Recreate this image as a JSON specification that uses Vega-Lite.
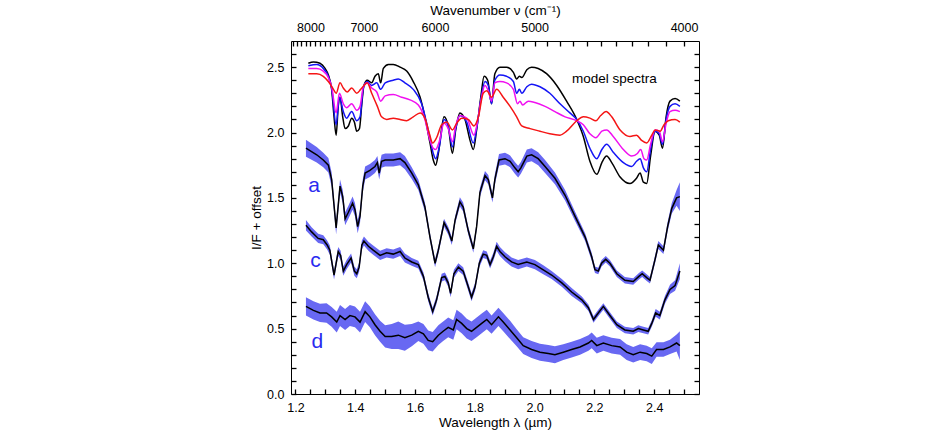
{
  "$schema": "https://vega.github.io/schema/vega-lite/v6.json",
  "width": 408,
  "height": 353,
  "autosize": {"type": "none"},
  "padding": {"left": 291, "top": 41, "right": 242, "bottom": 37},
  "background": "white",
  "config": {
    "view": {"stroke": "black", "strokeWidth": 1},
    "axis": {
      "domain": false, "grid": false, "zindex": 1,
      "labelFont": "Liberation Sans", "labelFontSize": 12.5, "labelColor": "black",
      "labelOverlap": false, "labelFlush": false,
      "tickColor": "black", "tickWidth": 1.3, "tickOpacity": 1,
      "titleFont": "Liberation Sans", "titleFontSize": 13.5, "titleFontWeight": "normal", "titleColor": "black"
    }
  },
  "data": {"values": [
    {"g":"a","x":1.235,"y":1.88,"lo":1.815,"hi":1.945},{"g":"a","x":1.271,"y":1.83,"lo":1.77,"hi":1.89},{"g":"a","x":1.293,"y":1.79,"lo":1.735,"hi":1.845},{"g":"a","x":1.310,"y":1.75,"lo":1.695,"hi":1.805},{"g":"a","x":1.321,"y":1.64,"lo":1.585,"hi":1.695},{"g":"a","x":1.336,"y":1.27,"lo":1.22,"hi":1.32},{"g":"a","x":1.349,"y":1.59,"lo":1.54,"hi":1.64},{"g":"a","x":1.358,"y":1.51,"lo":1.46,"hi":1.56},{"g":"a","x":1.366,"y":1.34,"lo":1.29,"hi":1.39},{"g":"a","x":1.377,"y":1.39,"lo":1.34,"hi":1.44},{"g":"a","x":1.391,"y":1.46,"lo":1.41,"hi":1.51},{"g":"a","x":1.399,"y":1.41,"lo":1.36,"hi":1.46},{"g":"a","x":1.408,"y":1.28,"lo":1.23,"hi":1.33},{"g":"a","x":1.416,"y":1.36,"lo":1.31,"hi":1.41},{"g":"a","x":1.425,"y":1.59,"lo":1.54,"hi":1.64},{"g":"a","x":1.433,"y":1.69,"lo":1.64,"hi":1.74},{"g":"a","x":1.449,"y":1.71,"lo":1.66,"hi":1.76},{"g":"a","x":1.466,"y":1.74,"lo":1.69,"hi":1.79},{"g":"a","x":1.474,"y":1.77,"lo":1.72,"hi":1.82},{"g":"a","x":1.480,"y":1.69,"lo":1.64,"hi":1.74},{"g":"a","x":1.488,"y":1.78,"lo":1.73,"hi":1.83},{"g":"a","x":1.500,"y":1.79,"lo":1.74,"hi":1.84},{"g":"a","x":1.527,"y":1.79,"lo":1.74,"hi":1.84},{"g":"a","x":1.550,"y":1.80,"lo":1.75,"hi":1.85},{"g":"a","x":1.566,"y":1.77,"lo":1.72,"hi":1.82},{"g":"a","x":1.589,"y":1.69,"lo":1.645,"hi":1.735},{"g":"a","x":1.611,"y":1.60,"lo":1.56,"hi":1.64},{"g":"a","x":1.633,"y":1.43,"lo":1.395,"hi":1.465},{"g":"a","x":1.650,"y":1.20,"lo":1.17,"hi":1.23},{"g":"a","x":1.667,"y":1.00,"lo":0.97,"hi":1.03},{"g":"a","x":1.678,"y":1.10,"lo":1.07,"hi":1.13},{"g":"a","x":1.697,"y":1.31,"lo":1.28,"hi":1.34},{"g":"a","x":1.711,"y":1.25,"lo":1.22,"hi":1.28},{"g":"a","x":1.723,"y":1.17,"lo":1.14,"hi":1.20},{"g":"a","x":1.734,"y":1.33,"lo":1.30,"hi":1.36},{"g":"a","x":1.750,"y":1.47,"lo":1.435,"hi":1.505},{"g":"a","x":1.761,"y":1.43,"lo":1.395,"hi":1.465},{"g":"a","x":1.778,"y":1.25,"lo":1.22,"hi":1.28},{"g":"a","x":1.795,"y":1.11,"lo":1.08,"hi":1.14},{"g":"a","x":1.806,"y":1.28,"lo":1.25,"hi":1.31},{"g":"a","x":1.817,"y":1.54,"lo":1.505,"hi":1.575},{"g":"a","x":1.834,"y":1.67,"lo":1.635,"hi":1.705},{"g":"a","x":1.845,"y":1.64,"lo":1.605,"hi":1.675},{"g":"a","x":1.859,"y":1.50,"lo":1.465,"hi":1.535},{"g":"a","x":1.867,"y":1.64,"lo":1.60,"hi":1.68},{"g":"a","x":1.881,"y":1.79,"lo":1.745,"hi":1.835},{"g":"a","x":1.901,"y":1.80,"lo":1.755,"hi":1.845},{"g":"a","x":1.918,"y":1.78,"lo":1.735,"hi":1.825},{"g":"a","x":1.934,"y":1.73,"lo":1.685,"hi":1.775},{"g":"a","x":1.945,"y":1.70,"lo":1.655,"hi":1.745},{"g":"a","x":1.954,"y":1.73,"lo":1.685,"hi":1.775},{"g":"a","x":1.974,"y":1.82,"lo":1.77,"hi":1.87},{"g":"a","x":1.990,"y":1.83,"lo":1.78,"hi":1.88},{"g":"a","x":2.012,"y":1.80,"lo":1.75,"hi":1.85},{"g":"a","x":2.035,"y":1.74,"lo":1.69,"hi":1.79},{"g":"a","x":2.068,"y":1.65,"lo":1.605,"hi":1.695},{"g":"a","x":2.102,"y":1.52,"lo":1.48,"hi":1.56},{"g":"a","x":2.135,"y":1.36,"lo":1.325,"hi":1.395},{"g":"a","x":2.169,"y":1.20,"lo":1.17,"hi":1.23},{"g":"a","x":2.191,"y":1.05,"lo":1.02,"hi":1.08},{"g":"a","x":2.202,"y":0.95,"lo":0.925,"hi":0.975},{"g":"a","x":2.213,"y":0.94,"lo":0.915,"hi":0.965},{"g":"a","x":2.224,"y":1.00,"lo":0.975,"hi":1.025},{"g":"a","x":2.238,"y":1.03,"lo":1.005,"hi":1.055},{"g":"a","x":2.252,"y":1.00,"lo":0.975,"hi":1.025},{"g":"a","x":2.275,"y":0.92,"lo":0.895,"hi":0.945},{"g":"a","x":2.302,"y":0.87,"lo":0.845,"hi":0.895},{"g":"a","x":2.330,"y":0.86,"lo":0.835,"hi":0.885},{"g":"a","x":2.349,"y":0.90,"lo":0.875,"hi":0.925},{"g":"a","x":2.360,"y":0.92,"lo":0.895,"hi":0.945},{"g":"a","x":2.375,"y":0.89,"lo":0.865,"hi":0.915},{"g":"a","x":2.386,"y":0.87,"lo":0.845,"hi":0.895},{"g":"a","x":2.403,"y":1.03,"lo":1.00,"hi":1.06},{"g":"a","x":2.414,"y":1.14,"lo":1.11,"hi":1.17},{"g":"a","x":2.431,"y":1.10,"lo":1.07,"hi":1.13},{"g":"a","x":2.445,"y":1.28,"lo":1.245,"hi":1.315},{"g":"a","x":2.459,"y":1.42,"lo":1.38,"hi":1.46},{"g":"a","x":2.475,"y":1.50,"lo":1.44,"hi":1.56},{"g":"a","x":2.486,"y":1.51,"lo":1.40,"hi":1.62},
    {"g":"c","x":1.235,"y":1.29,"lo":1.25,"hi":1.33},{"g":"c","x":1.254,"y":1.24,"lo":1.205,"hi":1.275},{"g":"c","x":1.276,"y":1.19,"lo":1.155,"hi":1.225},{"g":"c","x":1.293,"y":1.18,"lo":1.145,"hi":1.215},{"g":"c","x":1.306,"y":1.14,"lo":1.105,"hi":1.175},{"g":"c","x":1.315,"y":1.10,"lo":1.065,"hi":1.135},{"g":"c","x":1.329,"y":0.91,"lo":0.875,"hi":0.945},{"g":"c","x":1.343,"y":1.09,"lo":1.055,"hi":1.125},{"g":"c","x":1.351,"y":1.06,"lo":1.025,"hi":1.095},{"g":"c","x":1.360,"y":0.94,"lo":0.905,"hi":0.975},{"g":"c","x":1.371,"y":0.99,"lo":0.955,"hi":1.025},{"g":"c","x":1.386,"y":1.04,"lo":1.005,"hi":1.075},{"g":"c","x":1.397,"y":0.94,"lo":0.905,"hi":0.975},{"g":"c","x":1.405,"y":0.92,"lo":0.885,"hi":0.955},{"g":"c","x":1.413,"y":0.97,"lo":0.935,"hi":1.005},{"g":"c","x":1.422,"y":1.14,"lo":1.105,"hi":1.175},{"g":"c","x":1.429,"y":1.17,"lo":1.135,"hi":1.205},{"g":"c","x":1.444,"y":1.13,"lo":1.095,"hi":1.165},{"g":"c","x":1.460,"y":1.10,"lo":1.065,"hi":1.135},{"g":"c","x":1.483,"y":1.06,"lo":1.025,"hi":1.095},{"g":"c","x":1.505,"y":1.08,"lo":1.045,"hi":1.115},{"g":"c","x":1.527,"y":1.07,"lo":1.035,"hi":1.105},{"g":"c","x":1.550,"y":1.09,"lo":1.055,"hi":1.125},{"g":"c","x":1.566,"y":1.04,"lo":1.005,"hi":1.075},{"g":"c","x":1.589,"y":1.01,"lo":0.98,"hi":1.04},{"g":"c","x":1.611,"y":0.99,"lo":0.96,"hi":1.02},{"g":"c","x":1.628,"y":0.90,"lo":0.87,"hi":0.93},{"g":"c","x":1.644,"y":0.74,"lo":0.71,"hi":0.77},{"g":"c","x":1.659,"y":0.63,"lo":0.60,"hi":0.66},{"g":"c","x":1.672,"y":0.72,"lo":0.69,"hi":0.75},{"g":"c","x":1.689,"y":0.89,"lo":0.86,"hi":0.92},{"g":"c","x":1.700,"y":0.90,"lo":0.87,"hi":0.93},{"g":"c","x":1.711,"y":0.85,"lo":0.82,"hi":0.88},{"g":"c","x":1.719,"y":0.77,"lo":0.74,"hi":0.80},{"g":"c","x":1.730,"y":0.92,"lo":0.89,"hi":0.95},{"g":"c","x":1.745,"y":0.97,"lo":0.94,"hi":1.00},{"g":"c","x":1.761,"y":0.94,"lo":0.91,"hi":0.97},{"g":"c","x":1.778,"y":0.82,"lo":0.79,"hi":0.85},{"g":"c","x":1.789,"y":0.74,"lo":0.71,"hi":0.77},{"g":"c","x":1.801,"y":0.82,"lo":0.79,"hi":0.85},{"g":"c","x":1.815,"y":1.00,"lo":0.97,"hi":1.03},{"g":"c","x":1.828,"y":1.07,"lo":1.04,"hi":1.10},{"g":"c","x":1.840,"y":1.06,"lo":1.03,"hi":1.09},{"g":"c","x":1.851,"y":0.99,"lo":0.96,"hi":1.02},{"g":"c","x":1.862,"y":1.05,"lo":1.02,"hi":1.08},{"g":"c","x":1.873,"y":1.13,"lo":1.095,"hi":1.165},{"g":"c","x":1.884,"y":1.09,"lo":1.055,"hi":1.125},{"g":"c","x":1.901,"y":1.05,"lo":1.015,"hi":1.085},{"g":"c","x":1.923,"y":1.01,"lo":0.975,"hi":1.045},{"g":"c","x":1.945,"y":0.99,"lo":0.955,"hi":1.025},{"g":"c","x":1.974,"y":1.01,"lo":0.975,"hi":1.045},{"g":"c","x":2.001,"y":0.99,"lo":0.955,"hi":1.025},{"g":"c","x":2.029,"y":0.95,"lo":0.915,"hi":0.985},{"g":"c","x":2.057,"y":0.91,"lo":0.88,"hi":0.94},{"g":"c","x":2.091,"y":0.85,"lo":0.82,"hi":0.88},{"g":"c","x":2.124,"y":0.78,"lo":0.75,"hi":0.81},{"g":"c","x":2.158,"y":0.72,"lo":0.695,"hi":0.745},{"g":"c","x":2.180,"y":0.66,"lo":0.635,"hi":0.685},{"g":"c","x":2.197,"y":0.57,"lo":0.545,"hi":0.595},{"g":"c","x":2.213,"y":0.62,"lo":0.595,"hi":0.645},{"g":"c","x":2.230,"y":0.67,"lo":0.645,"hi":0.695},{"g":"c","x":2.252,"y":0.60,"lo":0.575,"hi":0.625},{"g":"c","x":2.275,"y":0.53,"lo":0.505,"hi":0.555},{"g":"c","x":2.302,"y":0.49,"lo":0.465,"hi":0.515},{"g":"c","x":2.330,"y":0.48,"lo":0.455,"hi":0.505},{"g":"c","x":2.347,"y":0.50,"lo":0.475,"hi":0.525},{"g":"c","x":2.364,"y":0.49,"lo":0.465,"hi":0.515},{"g":"c","x":2.380,"y":0.48,"lo":0.455,"hi":0.505},{"g":"c","x":2.392,"y":0.54,"lo":0.515,"hi":0.565},{"g":"c","x":2.405,"y":0.62,"lo":0.59,"hi":0.65},{"g":"c","x":2.419,"y":0.60,"lo":0.57,"hi":0.63},{"g":"c","x":2.436,"y":0.72,"lo":0.69,"hi":0.75},{"g":"c","x":2.453,"y":0.80,"lo":0.765,"hi":0.835},{"g":"c","x":2.470,"y":0.83,"lo":0.79,"hi":0.87},{"g":"c","x":2.486,"y":0.94,"lo":0.88,"hi":1.00},
    {"g":"d","x":1.235,"y":0.67,"lo":0.60,"hi":0.74},{"g":"d","x":1.260,"y":0.64,"lo":0.57,"hi":0.71},{"g":"d","x":1.282,"y":0.62,"lo":0.55,"hi":0.69},{"g":"d","x":1.304,"y":0.62,"lo":0.545,"hi":0.695},{"g":"d","x":1.321,"y":0.59,"lo":0.515,"hi":0.665},{"g":"d","x":1.338,"y":0.55,"lo":0.47,"hi":0.63},{"g":"d","x":1.349,"y":0.60,"lo":0.52,"hi":0.68},{"g":"d","x":1.366,"y":0.57,"lo":0.49,"hi":0.65},{"g":"d","x":1.382,"y":0.60,"lo":0.52,"hi":0.68},{"g":"d","x":1.399,"y":0.59,"lo":0.51,"hi":0.67},{"g":"d","x":1.416,"y":0.55,"lo":0.47,"hi":0.63},{"g":"d","x":1.433,"y":0.63,"lo":0.55,"hi":0.71},{"g":"d","x":1.449,"y":0.59,"lo":0.51,"hi":0.67},{"g":"d","x":1.466,"y":0.53,"lo":0.45,"hi":0.61},{"g":"d","x":1.483,"y":0.48,"lo":0.40,"hi":0.56},{"g":"d","x":1.500,"y":0.44,"lo":0.355,"hi":0.525},{"g":"d","x":1.522,"y":0.44,"lo":0.345,"hi":0.535},{"g":"d","x":1.544,"y":0.45,"lo":0.345,"hi":0.555},{"g":"d","x":1.566,"y":0.43,"lo":0.33,"hi":0.53},{"g":"d","x":1.589,"y":0.45,"lo":0.365,"hi":0.535},{"g":"d","x":1.611,"y":0.48,"lo":0.405,"hi":0.555},{"g":"d","x":1.628,"y":0.46,"lo":0.385,"hi":0.535},{"g":"d","x":1.644,"y":0.41,"lo":0.335,"hi":0.485},{"g":"d","x":1.659,"y":0.40,"lo":0.325,"hi":0.475},{"g":"d","x":1.678,"y":0.45,"lo":0.375,"hi":0.525},{"g":"d","x":1.694,"y":0.48,"lo":0.405,"hi":0.555},{"g":"d","x":1.711,"y":0.51,"lo":0.435,"hi":0.585},{"g":"d","x":1.728,"y":0.49,"lo":0.415,"hi":0.565},{"g":"d","x":1.739,"y":0.57,"lo":0.495,"hi":0.645},{"g":"d","x":1.756,"y":0.54,"lo":0.465,"hi":0.615},{"g":"d","x":1.773,"y":0.50,"lo":0.425,"hi":0.575},{"g":"d","x":1.789,"y":0.48,"lo":0.405,"hi":0.555},{"g":"d","x":1.806,"y":0.51,"lo":0.435,"hi":0.585},{"g":"d","x":1.823,"y":0.54,"lo":0.465,"hi":0.615},{"g":"d","x":1.840,"y":0.57,"lo":0.495,"hi":0.645},{"g":"d","x":1.856,"y":0.53,"lo":0.46,"hi":0.60},{"g":"d","x":1.879,"y":0.59,"lo":0.52,"hi":0.66},{"g":"d","x":1.895,"y":0.55,"lo":0.48,"hi":0.62},{"g":"d","x":1.918,"y":0.49,"lo":0.42,"hi":0.56},{"g":"d","x":1.940,"y":0.43,"lo":0.365,"hi":0.495},{"g":"d","x":1.962,"y":0.37,"lo":0.305,"hi":0.435},{"g":"d","x":1.990,"y":0.34,"lo":0.275,"hi":0.405},{"g":"d","x":2.018,"y":0.32,"lo":0.255,"hi":0.385},{"g":"d","x":2.046,"y":0.31,"lo":0.245,"hi":0.375},{"g":"d","x":2.068,"y":0.30,"lo":0.235,"hi":0.365},{"g":"d","x":2.096,"y":0.32,"lo":0.26,"hi":0.38},{"g":"d","x":2.124,"y":0.34,"lo":0.28,"hi":0.40},{"g":"d","x":2.152,"y":0.36,"lo":0.30,"hi":0.42},{"g":"d","x":2.180,"y":0.39,"lo":0.33,"hi":0.45},{"g":"d","x":2.191,"y":0.41,"lo":0.35,"hi":0.47},{"g":"d","x":2.208,"y":0.37,"lo":0.31,"hi":0.43},{"g":"d","x":2.230,"y":0.39,"lo":0.33,"hi":0.45},{"g":"d","x":2.258,"y":0.37,"lo":0.31,"hi":0.43},{"g":"d","x":2.286,"y":0.36,"lo":0.30,"hi":0.42},{"g":"d","x":2.308,"y":0.32,"lo":0.26,"hi":0.38},{"g":"d","x":2.330,"y":0.30,"lo":0.24,"hi":0.36},{"g":"d","x":2.353,"y":0.32,"lo":0.26,"hi":0.38},{"g":"d","x":2.375,"y":0.31,"lo":0.25,"hi":0.37},{"g":"d","x":2.392,"y":0.29,"lo":0.23,"hi":0.35},{"g":"d","x":2.408,"y":0.34,"lo":0.285,"hi":0.395},{"g":"d","x":2.431,"y":0.34,"lo":0.285,"hi":0.395},{"g":"d","x":2.453,"y":0.36,"lo":0.305,"hi":0.415},{"g":"d","x":2.475,"y":0.39,"lo":0.325,"hi":0.455},{"g":"d","x":2.486,"y":0.37,"lo":0.26,"hi":0.48},
    {"g":"k","x":1.243,"y":2.53},{"g":"k","x":1.260,"y":2.54},{"g":"k","x":1.282,"y":2.53},{"g":"k","x":1.299,"y":2.49},{"g":"k","x":1.310,"y":2.44},{"g":"k","x":1.321,"y":2.33},{"g":"k","x":1.329,"y":2.12},{"g":"k","x":1.336,"y":1.98},{"g":"k","x":1.343,"y":2.20},{"g":"k","x":1.349,"y":2.27},{"g":"k","x":1.358,"y":2.12},{"g":"k","x":1.366,"y":2.03},{"g":"k","x":1.377,"y":2.05},{"g":"k","x":1.388,"y":2.11},{"g":"k","x":1.397,"y":2.08},{"g":"k","x":1.405,"y":2.01},{"g":"k","x":1.414,"y":2.03},{"g":"k","x":1.422,"y":2.22},{"g":"k","x":1.429,"y":2.36},{"g":"k","x":1.440,"y":2.40},{"g":"k","x":1.455,"y":2.38},{"g":"k","x":1.466,"y":2.43},{"g":"k","x":1.477,"y":2.45},{"g":"k","x":1.485,"y":2.38},{"g":"k","x":1.494,"y":2.49},{"g":"k","x":1.511,"y":2.52},{"g":"k","x":1.527,"y":2.52},{"g":"k","x":1.550,"y":2.50},{"g":"k","x":1.572,"y":2.47},{"g":"k","x":1.594,"y":2.39},{"g":"k","x":1.617,"y":2.27},{"g":"k","x":1.633,"y":2.12},{"g":"k","x":1.650,"y":1.92},{"g":"k","x":1.661,"y":1.79},{"g":"k","x":1.669,"y":1.75},{"g":"k","x":1.678,"y":1.84},{"g":"k","x":1.697,"y":2.12},{"g":"k","x":1.711,"y":2.05},{"g":"k","x":1.725,"y":1.84},{"g":"k","x":1.736,"y":2.02},{"g":"k","x":1.750,"y":2.15},{"g":"k","x":1.767,"y":2.10},{"g":"k","x":1.784,"y":1.94},{"g":"k","x":1.795,"y":1.87},{"g":"k","x":1.806,"y":2.02},{"g":"k","x":1.820,"y":2.27},{"g":"k","x":1.831,"y":2.43},{"g":"k","x":1.843,"y":2.40},{"g":"k","x":1.856,"y":2.22},{"g":"k","x":1.867,"y":2.45},{"g":"k","x":1.884,"y":2.50},{"g":"k","x":1.906,"y":2.50},{"g":"k","x":1.929,"y":2.46},{"g":"k","x":1.940,"y":2.41},{"g":"k","x":1.949,"y":2.43},{"g":"k","x":1.957,"y":2.42},{"g":"k","x":1.974,"y":2.48},{"g":"k","x":1.990,"y":2.50},{"g":"k","x":2.012,"y":2.49},{"g":"k","x":2.040,"y":2.45},{"g":"k","x":2.074,"y":2.36},{"g":"k","x":2.107,"y":2.24},{"g":"k","x":2.141,"y":2.10},{"g":"k","x":2.163,"y":1.97},{"g":"k","x":2.185,"y":1.78},{"g":"k","x":2.208,"y":1.68},{"g":"k","x":2.225,"y":1.77},{"g":"k","x":2.241,"y":1.82},{"g":"k","x":2.258,"y":1.77},{"g":"k","x":2.286,"y":1.66},{"g":"k","x":2.319,"y":1.61},{"g":"k","x":2.341,"y":1.65},{"g":"k","x":2.353,"y":1.69},{"g":"k","x":2.364,"y":1.62},{"g":"k","x":2.375,"y":1.61},{"g":"k","x":2.388,"y":1.82},{"g":"k","x":2.403,"y":2.01},{"g":"k","x":2.417,"y":1.98},{"g":"k","x":2.428,"y":1.88},{"g":"k","x":2.440,"y":2.12},{"g":"k","x":2.453,"y":2.24},{"g":"k","x":2.470,"y":2.26},{"g":"k","x":2.486,"y":2.24},
    {"g":"b","x":1.243,"y":2.51},{"g":"b","x":1.271,"y":2.52},{"g":"b","x":1.293,"y":2.49},{"g":"b","x":1.310,"y":2.43},{"g":"b","x":1.321,"y":2.34},{"g":"b","x":1.336,"y":2.06},{"g":"b","x":1.347,"y":2.27},{"g":"b","x":1.360,"y":2.16},{"g":"b","x":1.371,"y":2.11},{"g":"b","x":1.388,"y":2.16},{"g":"b","x":1.405,"y":2.09},{"g":"b","x":1.416,"y":2.12},{"g":"b","x":1.427,"y":2.34},{"g":"b","x":1.440,"y":2.39},{"g":"b","x":1.455,"y":2.36},{"g":"b","x":1.472,"y":2.38},{"g":"b","x":1.485,"y":2.33},{"g":"b","x":1.500,"y":2.38},{"g":"b","x":1.527,"y":2.40},{"g":"b","x":1.544,"y":2.41},{"g":"b","x":1.566,"y":2.38},{"g":"b","x":1.594,"y":2.33},{"g":"b","x":1.622,"y":2.22},{"g":"b","x":1.644,"y":2.02},{"g":"b","x":1.661,"y":1.84},{"g":"b","x":1.669,"y":1.80},{"g":"b","x":1.681,"y":1.89},{"g":"b","x":1.697,"y":2.10},{"g":"b","x":1.711,"y":2.05},{"g":"b","x":1.725,"y":1.89},{"g":"b","x":1.736,"y":2.03},{"g":"b","x":1.750,"y":2.13},{"g":"b","x":1.773,"y":2.08},{"g":"b","x":1.795,"y":1.92},{"g":"b","x":1.806,"y":2.03},{"g":"b","x":1.820,"y":2.25},{"g":"b","x":1.834,"y":2.39},{"g":"b","x":1.845,"y":2.36},{"g":"b","x":1.856,"y":2.22},{"g":"b","x":1.867,"y":2.40},{"g":"b","x":1.884,"y":2.44},{"g":"b","x":1.906,"y":2.43},{"g":"b","x":1.929,"y":2.39},{"g":"b","x":1.940,"y":2.30},{"g":"b","x":1.949,"y":2.33},{"g":"b","x":1.957,"y":2.30},{"g":"b","x":1.974,"y":2.35},{"g":"b","x":1.990,"y":2.37},{"g":"b","x":2.018,"y":2.35},{"g":"b","x":2.051,"y":2.30},{"g":"b","x":2.085,"y":2.22},{"g":"b","x":2.118,"y":2.15},{"g":"b","x":2.141,"y":2.10},{"g":"b","x":2.163,"y":2.01},{"g":"b","x":2.185,"y":1.88},{"g":"b","x":2.208,"y":1.80},{"g":"b","x":2.225,"y":1.87},{"g":"b","x":2.241,"y":1.91},{"g":"b","x":2.263,"y":1.85},{"g":"b","x":2.297,"y":1.77},{"g":"b","x":2.325,"y":1.74},{"g":"b","x":2.341,"y":1.78},{"g":"b","x":2.353,"y":1.80},{"g":"b","x":2.364,"y":1.73},{"g":"b","x":2.375,"y":1.70},{"g":"b","x":2.388,"y":1.87},{"g":"b","x":2.403,"y":2.01},{"g":"b","x":2.417,"y":1.99},{"g":"b","x":2.428,"y":1.91},{"g":"b","x":2.440,"y":2.10},{"g":"b","x":2.453,"y":2.20},{"g":"b","x":2.470,"y":2.22},{"g":"b","x":2.486,"y":2.20},
    {"g":"p","x":1.243,"y":2.49},{"g":"p","x":1.271,"y":2.49},{"g":"p","x":1.293,"y":2.47},{"g":"p","x":1.310,"y":2.42},{"g":"p","x":1.321,"y":2.35},{"g":"p","x":1.336,"y":2.15},{"g":"p","x":1.347,"y":2.30},{"g":"p","x":1.360,"y":2.22},{"g":"p","x":1.371,"y":2.19},{"g":"p","x":1.388,"y":2.22},{"g":"p","x":1.405,"y":2.17},{"g":"p","x":1.416,"y":2.20},{"g":"p","x":1.427,"y":2.35},{"g":"p","x":1.440,"y":2.38},{"g":"p","x":1.455,"y":2.34},{"g":"p","x":1.472,"y":2.31},{"g":"p","x":1.485,"y":2.24},{"g":"p","x":1.500,"y":2.28},{"g":"p","x":1.527,"y":2.29},{"g":"p","x":1.555,"y":2.27},{"g":"p","x":1.583,"y":2.25},{"g":"p","x":1.611,"y":2.21},{"g":"p","x":1.633,"y":2.10},{"g":"p","x":1.650,"y":1.94},{"g":"p","x":1.661,"y":1.88},{"g":"p","x":1.669,"y":1.87},{"g":"p","x":1.681,"y":1.93},{"g":"p","x":1.697,"y":2.07},{"g":"p","x":1.711,"y":2.03},{"g":"p","x":1.725,"y":1.93},{"g":"p","x":1.736,"y":2.05},{"g":"p","x":1.750,"y":2.13},{"g":"p","x":1.773,"y":2.11},{"g":"p","x":1.797,"y":1.98},{"g":"p","x":1.808,"y":2.07},{"g":"p","x":1.820,"y":2.24},{"g":"p","x":1.834,"y":2.36},{"g":"p","x":1.845,"y":2.32},{"g":"p","x":1.856,"y":2.24},{"g":"p","x":1.867,"y":2.38},{"g":"p","x":1.884,"y":2.39},{"g":"p","x":1.906,"y":2.38},{"g":"p","x":1.929,"y":2.33},{"g":"p","x":1.943,"y":2.22},{"g":"p","x":1.951,"y":2.24},{"g":"p","x":1.960,"y":2.21},{"g":"p","x":1.979,"y":2.24},{"g":"p","x":2.001,"y":2.23},{"g":"p","x":2.035,"y":2.20},{"g":"p","x":2.068,"y":2.16},{"g":"p","x":2.102,"y":2.12},{"g":"p","x":2.141,"y":2.09},{"g":"p","x":2.163,"y":2.06},{"g":"p","x":2.185,"y":1.99},{"g":"p","x":2.205,"y":1.96},{"g":"p","x":2.225,"y":2.01},{"g":"p","x":2.241,"y":2.02},{"g":"p","x":2.263,"y":1.97},{"g":"p","x":2.297,"y":1.87},{"g":"p","x":2.325,"y":1.82},{"g":"p","x":2.344,"y":1.84},{"g":"p","x":2.355,"y":1.87},{"g":"p","x":2.366,"y":1.80},{"g":"p","x":2.375,"y":1.79},{"g":"p","x":2.388,"y":1.91},{"g":"p","x":2.403,"y":2.02},{"g":"p","x":2.417,"y":2.01},{"g":"p","x":2.428,"y":1.93},{"g":"p","x":2.440,"y":2.07},{"g":"p","x":2.453,"y":2.16},{"g":"p","x":2.470,"y":2.17},{"g":"p","x":2.486,"y":2.16},
    {"g":"r","x":1.243,"y":2.45},{"g":"r","x":1.271,"y":2.45},{"g":"r","x":1.293,"y":2.43},{"g":"r","x":1.310,"y":2.39},{"g":"r","x":1.327,"y":2.33},{"g":"r","x":1.336,"y":2.30},{"g":"r","x":1.349,"y":2.38},{"g":"r","x":1.360,"y":2.34},{"g":"r","x":1.373,"y":2.31},{"g":"r","x":1.388,"y":2.34},{"g":"r","x":1.405,"y":2.30},{"g":"r","x":1.418,"y":2.33},{"g":"r","x":1.429,"y":2.36},{"g":"r","x":1.440,"y":2.38},{"g":"r","x":1.455,"y":2.30},{"g":"r","x":1.474,"y":2.20},{"g":"r","x":1.488,"y":2.12},{"g":"r","x":1.505,"y":2.10},{"g":"r","x":1.527,"y":2.11},{"g":"r","x":1.550,"y":2.10},{"g":"r","x":1.572,"y":2.09},{"g":"r","x":1.594,"y":2.12},{"g":"r","x":1.617,"y":2.15},{"g":"r","x":1.633,"y":2.11},{"g":"r","x":1.648,"y":1.99},{"g":"r","x":1.659,"y":1.92},{"g":"r","x":1.672,"y":1.96},{"g":"r","x":1.689,"y":2.06},{"g":"r","x":1.706,"y":2.08},{"g":"r","x":1.725,"y":2.02},{"g":"r","x":1.739,"y":2.07},{"g":"r","x":1.756,"y":2.11},{"g":"r","x":1.778,"y":2.10},{"g":"r","x":1.797,"y":2.05},{"g":"r","x":1.812,"y":2.12},{"g":"r","x":1.828,"y":2.30},{"g":"r","x":1.840,"y":2.32},{"g":"r","x":1.856,"y":2.27},{"g":"r","x":1.873,"y":2.33},{"g":"r","x":1.895,"y":2.27},{"g":"r","x":1.918,"y":2.20},{"g":"r","x":1.940,"y":2.12},{"g":"r","x":1.957,"y":2.05},{"g":"r","x":1.985,"y":2.03},{"g":"r","x":2.018,"y":2.01},{"g":"r","x":2.051,"y":1.99},{"g":"r","x":2.085,"y":1.98},{"g":"r","x":2.107,"y":2.01},{"g":"r","x":2.141,"y":2.09},{"g":"r","x":2.163,"y":2.12},{"g":"r","x":2.185,"y":2.11},{"g":"r","x":2.205,"y":2.09},{"g":"r","x":2.221,"y":2.13},{"g":"r","x":2.239,"y":2.16},{"g":"r","x":2.258,"y":2.12},{"g":"r","x":2.286,"y":2.02},{"g":"r","x":2.319,"y":1.97},{"g":"r","x":2.341,"y":1.98},{"g":"r","x":2.358,"y":1.94},{"g":"r","x":2.375,"y":1.92},{"g":"r","x":2.392,"y":1.98},{"g":"r","x":2.403,"y":2.02},{"g":"r","x":2.420,"y":2.01},{"g":"r","x":2.433,"y":2.06},{"g":"r","x":2.447,"y":2.09},{"g":"r","x":2.470,"y":2.10},{"g":"r","x":2.486,"y":2.08}
  ]},
  "resolve": {"axis": {"x": "independent", "y": "independent"}},
  "layer": [
    {
      "transform": [{"filter": {"field": "g", "oneOf": ["k", "b", "p", "r"]}}],
      "mark": {"type": "line", "strokeWidth": 1.5, "interpolate": "monotone"},
      "encoding": {
        "x": {"field": "x", "type": "quantitative", "scale": {"domain": [1.185, 2.55], "nice": false, "zero": false},
              "axis": {"orient": "top", "offset": -5, "tickSize": 5, "labelPadding": 7,
                       "values": [2.5, 2.439024, 2.380952, 2.325581, 2.272727, 2.222222, 2.173913, 2.12766, 2.083333, 2.040816, 2.0, 1.960784, 1.923077, 1.886792, 1.851852, 1.818182, 1.785714, 1.754386, 1.724138, 1.694915, 1.666667, 1.639344, 1.612903, 1.587302, 1.5625, 1.538462, 1.515152, 1.492537, 1.470588, 1.449275, 1.428571, 1.408451, 1.388889, 1.369863, 1.351351, 1.333333, 1.315789, 1.298701, 1.282051, 1.265823, 1.25, 1.234568, 1.219512, 1.204819, 1.190476],
                       "labelExpr": "indexof([8000, 7000, 6000, 5000, 4000], round(10000 / datum.value)) >= 0 ? format(round(10000 / datum.value), 'd') : ''",
                       "title": "Wavenumber ν (cm⁻¹)", "titlePadding": 4}},
        "y": {"field": "y", "type": "quantitative", "scale": {"domain": [0, 2.7], "nice": false, "zero": false},
              "axis": {"orient": "right", "offset": -5, "tickSize": 5, "labels": false, "title": null,
                       "values": [0, 0.1, 0.2, 0.3, 0.4, 0.5, 0.6, 0.7, 0.8, 0.9, 1.0, 1.1, 1.2, 1.3, 1.4, 1.5, 1.6, 1.7, 1.8, 1.9, 2.0, 2.1, 2.2, 2.3, 2.4, 2.5, 2.6]}},
        "color": {"field": "g", "type": "nominal", "sort": ["k", "b", "p", "r"], "scale": {"domain": ["k", "b", "p", "r"], "range": ["#000000", "#1515f5", "#f010f0", "#f51515"]}, "legend": null}
      }
    },
    {
      "transform": [{"filter": {"field": "g", "oneOf": ["a", "c", "d"]}}],
      "mark": {"type": "area", "color": "#6868f2", "opacity": 1},
      "encoding": {
        "x": {"field": "x", "type": "quantitative", "axis": null},
        "y": {"field": "lo", "type": "quantitative", "axis": null},
        "y2": {"field": "hi"},
        "detail": {"field": "g"}
      }
    },
    {
      "transform": [{"filter": {"field": "g", "oneOf": ["a", "c", "d"]}}],
      "mark": {"type": "line", "color": "black", "strokeWidth": 1.5},
      "encoding": {
        "x": {"field": "x", "type": "quantitative",
              "axis": {"orient": "bottom", "offset": -5, "tickSize": 5, "labelPadding": 7,
                       "values": [1.2, 1.25, 1.3, 1.35, 1.4, 1.45, 1.5, 1.55, 1.6, 1.65, 1.7, 1.75, 1.8, 1.85, 1.9, 1.95, 2.0, 2.05, 2.1, 2.15, 2.2, 2.25, 2.3, 2.35, 2.4, 2.45, 2.5],
                       "labelExpr": "abs(datum.value * 5 - round(datum.value * 5)) < 0.001 && datum.value < 2.45 ? format(datum.value, '.1f') : ''",
                       "title": "Wavelength λ (µm)", "titlePadding": 2}},
        "y": {"field": "y", "type": "quantitative",
              "axis": {"orient": "left", "offset": -5, "tickSize": 5, "labelPadding": 7,
                       "values": [0, 0.1, 0.2, 0.3, 0.4, 0.5, 0.6, 0.7, 0.8, 0.9, 1.0, 1.1, 1.2, 1.3, 1.4, 1.5, 1.6, 1.7, 1.8, 1.9, 2.0, 2.1, 2.2, 2.3, 2.4, 2.5, 2.6],
                       "labelExpr": "abs(datum.value * 2 - round(datum.value * 2)) < 0.001 ? format(datum.value, '.1f') : ''",
                       "title": "I/F + offset", "titlePadding": 3}},
        "detail": {"field": "g"}
      }
    },
    {
      "data": {"values": [{}]},
      "mark": {"type": "text", "text": "model spectra", "font": "Liberation Sans", "fontSize": 13.5, "color": "black", "align": "center", "baseline": "middle"},
      "encoding": {
        "x": {"datum": 2.267, "type": "quantitative", "axis": null},
        "y": {"datum": 2.41, "type": "quantitative", "axis": null}
      }
    },
    {
      "data": {"values": [{}]},
      "mark": {"type": "text", "text": "a", "font": "Liberation Sans", "fontSize": 21, "color": "#2a2af0", "align": "left", "baseline": "alphabetic"},
      "encoding": {
        "x": {"datum": 1.243, "type": "quantitative", "axis": null},
        "y": {"datum": 1.548, "type": "quantitative", "axis": null}
      }
    },
    {
      "data": {"values": [{}]},
      "mark": {"type": "text", "text": "c", "font": "Liberation Sans", "fontSize": 21, "color": "#2a2af0", "align": "left", "baseline": "alphabetic"},
      "encoding": {
        "x": {"datum": 1.249, "type": "quantitative", "axis": null},
        "y": {"datum": 0.974, "type": "quantitative", "axis": null}
      }
    },
    {
      "data": {"values": [{}]},
      "mark": {"type": "text", "text": "d", "font": "Liberation Sans", "fontSize": 21, "color": "#2a2af0", "align": "left", "baseline": "alphabetic"},
      "encoding": {
        "x": {"datum": 1.254, "type": "quantitative", "axis": null},
        "y": {"datum": 0.35, "type": "quantitative", "axis": null}
      }
    }
  ]
}
